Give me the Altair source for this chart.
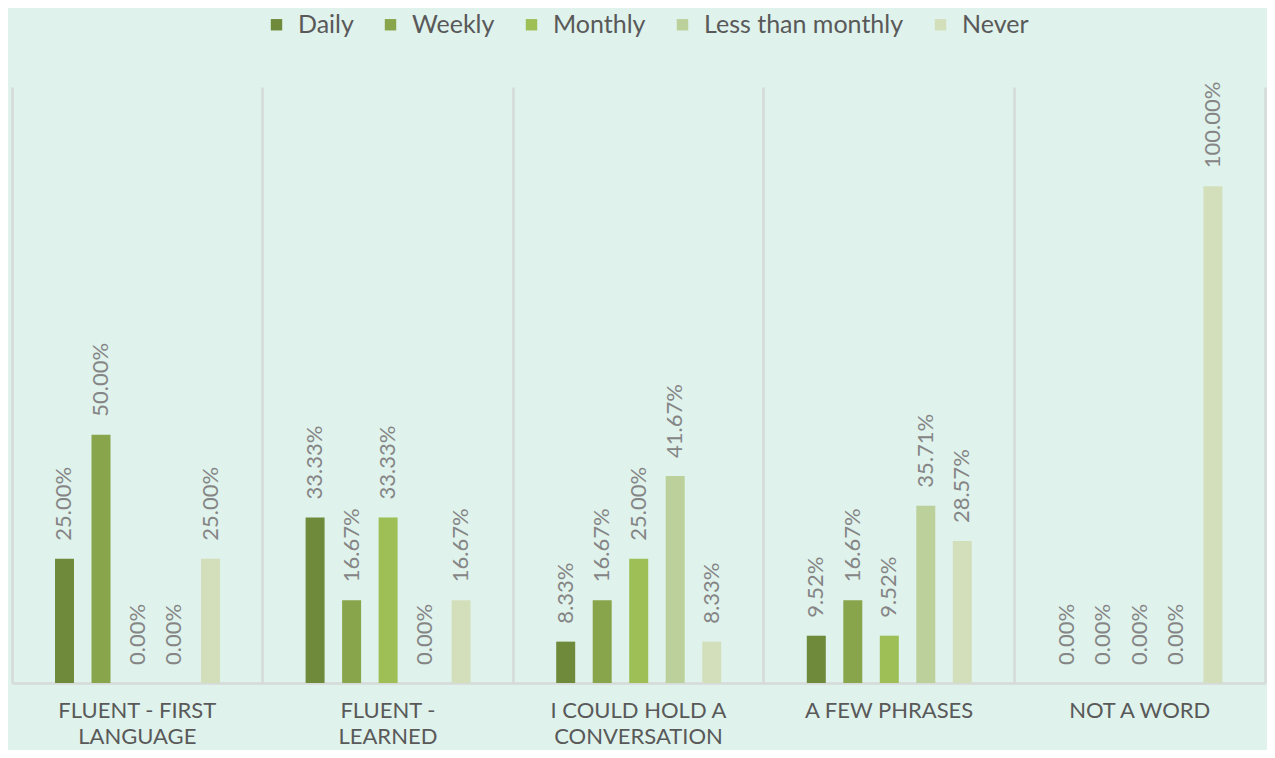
import altair as alt
import pandas as pd

categories = ["FLUENT - FIRST LANGUAGE", "FLUENT - LEARNED", "I COULD HOLD A CONVERSATION",
              "A FEW PHRASES", "NOT A WORD"]
label_lines = [["FLUENT - FIRST", "LANGUAGE"], ["FLUENT -", "LEARNED"],
               ["I COULD HOLD A", "CONVERSATION"], ["A FEW PHRASES"], ["NOT A WORD"]]
frequencies = ["Daily", "Weekly", "Monthly", "Less than monthly", "Never"]
colors = ["#6f8a3b", "#89a54b", "#9dbf55", "#bbd09a", "#d3dfbb"]

daily = [0.25, 0.3333, 0.0833, 0.0952, 0.0]
weekly = [0.50, 0.1667, 0.1667, 0.1667, 0.0]
monthly = [0.0, 0.3333, 0.25, 0.0952, 0.0]
less_than_monthly = [0.0, 0.0, 0.4167, 0.3571, 0.0]
never = [0.25, 0.1667, 0.0833, 0.2857, 1.0]

series = [daily, weekly, monthly, less_than_monthly, never]
rows = []
for f, vals in zip(frequencies, series):
    for c, v in zip(categories, vals):
        rows.append({"cat": c, "freq": f, "value": v})
df = pd.DataFrame(rows)

expr_parts = []
for c, lines in zip(categories, label_lines):
    arr = "[" + ",".join("'" + l + "'" for l in lines) + "]"
    expr_parts.append(f"datum.value == '{c}' ? {arr} : ")
label_expr = "".join(expr_parts) + "datum.value"

FONT = "Lato"
GRID = "#d6dad8"

base = alt.Chart(df).encode(
    x=alt.X("cat:N", sort=categories,
            scale=alt.Scale(paddingInner=0, paddingOuter=0),
            axis=alt.Axis(title=None, labelAngle=0, grid=True, bandPosition=0,
                          gridColor=GRID, gridWidth=2.5, ticks=False,
                          domainColor=GRID, domainWidth=2.5,
                          labelExpr=label_expr, labelFont=FONT, labelFontSize=22,
                          labelColor="#595959", labelPadding=17, labelLimit=0,
                          labelLineHeight=26, labelBaseline="top")),
    xOffset=alt.XOffset("freq:N", sort=frequencies,
                        scale=alt.Scale(paddingInner=0.48, paddingOuter=0,
                                        range=[43, 208])),
    y=alt.Y("value:Q", scale=alt.Scale(domain=[0, 1.2]),
            axis=alt.Axis(title=None, orient="right", labels=False, ticks=False,
                          grid=False, domainColor=GRID, domainWidth=2.5)),
)

bars = base.mark_bar().encode(
    color=alt.Color("freq:N", sort=frequencies,
                    scale=alt.Scale(domain=frequencies, range=colors),
                    legend=alt.Legend(title=None, orient="none", direction="horizontal",
                                      legendX=252, legendY=-75,
                                      symbolType="square", symbolSize=130,
                                      symbolStrokeWidth=0, labelFont=FONT,
                                      labelFontSize=25, labelColor="#595959",
                                      labelLimit=0, columnPadding=24, labelOffset=9))
)

labels = base.mark_text(angle=270, align="left", baseline="middle", dx=18,
                        font=FONT, fontSize=22, color="#858585").encode(
    text=alt.Text("value:Q", format=".2%")
)

chart = (bars + labels).properties(
    width=1253, height=596,
    background="#dff2ec",
    padding={"left": 4, "top": 79, "right": 2, "bottom": 67},
    autosize=alt.AutoSizeParams(type="none"),
).configure_view(stroke=None)

chart.save("out.html", embed_options={"renderer": "svg", "actions": False})
